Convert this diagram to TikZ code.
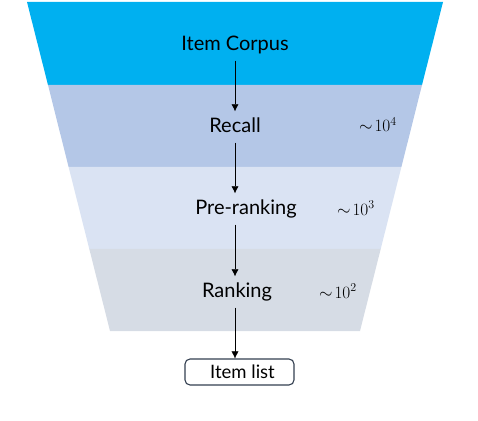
\documentclass[tikz,border=0pt]{standalone}
\usepackage{fontspec}
\setmainfont{Lato}
\usetikzlibrary{arrows.meta}
\definecolor{corpusblue}{HTML}{00B0F0}
\definecolor{recallblue}{HTML}{B4C7E7}
\definecolor{preblue}{HTML}{DAE3F3}
\definecolor{rankgray}{HTML}{D6DCE5}
\definecolor{boxline}{HTML}{333F50}
\begin{document}
\begin{tikzpicture}[>={Latex[length=7pt,width=7pt]}, x=1pt, y=1pt,
    stage/.style={inner sep=6pt, text height=15pt, text depth=4pt, font=\fontsize{20}{24}\selectfont},
    count/.style={font=\fontsize{17.5}{21}\selectfont},
    listbox/.style={draw=boxline, line width=1.1pt, rounded corners=5pt, minimum width=109pt, minimum height=26pt, inner sep=0pt, font=\fontsize{18.5}{22}\selectfont}]
\useasboundingbox (0,0) rectangle (478,420);
% funnel layers: left top / left bottom / top / bottom
\foreach \a/\b/\c/\d/\col in {27/48/418/335/corpusblue, 48/68.6/335/253/recallblue, 68.6/89.3/253/171/preblue, 89.3/110/171/89/rankgray}
{
\fill[\col] (\a,\c)--({470-\a},\c)--({470-\b},\d)--(\b,\d)--cycle;
}

\node[stage] (corpus) at (235,375){Item Corpus};
\node[stage] (recall) at (235,293){Recall};
\node[stage] (preranking) at (246,211){Pre-ranking};
\node[stage] (ranking) at (237,128){Ranking};
\node[listbox] (itemlist) at (239.5,48){\hspace{6pt}Item list};

\node[count] (n4) at (378,295){$\sim\!10^4$};
\node[count] (n3) at (356,212){$\sim\!10^3$};
\node[count] (n2) at (338,129){$\sim\!10^2$};

\draw[->] (corpus.south)--(corpus.south |- recall.north);
\draw[->] (recall.south)--(recall.south |- preranking.north);
\draw[->] (recall.south |- preranking.south)--(recall.south |- ranking.north);
\draw[->] (recall.south |- ranking.south)--(recall.south |- itemlist.north);
\end{tikzpicture}
\end{document}
